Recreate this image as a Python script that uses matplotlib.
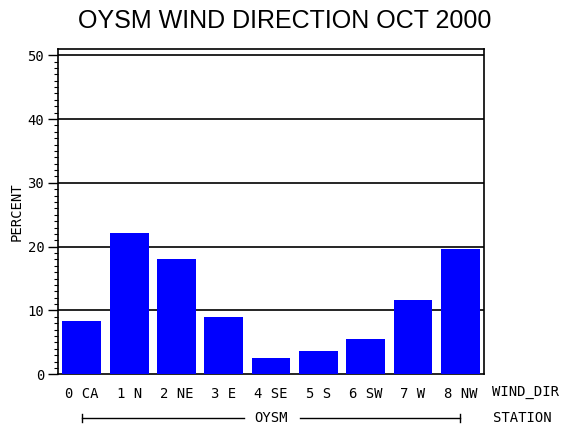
import matplotlib
matplotlib.use("Agg")
import matplotlib.pyplot as plt
import numpy as np

directions = ["0 CA", "1 N", "2 NE", "3 E", "4 SE", "5 S", "6 SW", "7 W", "8 NW"]
percent = [8.35, 22.15, 18.07, 8.98, 2.55, 3.65, 5.53, 11.65, 19.64]
station = "OYSM"
title = "OYSM WIND DIRECTION OCT 2000"

mono = "DejaVu Sans Mono"

fig = plt.figure(figsize=(5.7, 4.3), dpi=100)
ax = fig.add_axes([0.102, 0.1295, 0.747, 0.7555])

x = np.arange(len(directions))
ax.bar(x, percent, width=0.82, color="#0000ff", zorder=3)

ax.set_xlim(-0.5, len(directions) - 0.5)
ax.set_ylim(0, 50.9)
ax.set_yticks(np.arange(0, 51, 10))
ax.set_yticks(np.arange(0, 51, 1), minor=True)
for v in range(10, 51, 10):
    ax.axhline(v, color="black", lw=1.2, zorder=2)

ax.set_xticks(x)
ax.set_xticklabels(directions, family=mono, fontsize=10)
ax.tick_params(axis="x", length=0, pad=9)
ax.tick_params(axis="y", which="major", length=7, width=1, labelsize=10, pad=3)
ax.tick_params(axis="y", which="minor", length=3, width=0.8)
for lab in ax.get_yticklabels():
    lab.set_family(mono)
for s in ax.spines.values():
    s.set_linewidth(1.2)

ax.set_ylabel("PERCENT", family=mono, fontsize=10, labelpad=3)

fig.text(0.5, 0.95, title, ha="center", va="center", fontsize=18,
         family="Liberation Sans")

# group label row
fig.text(0.863, 0.088, "WIND_DIR", family=mono, fontsize=10, va="center")
fig.text(0.865, 0.028, "STATION", family=mono, fontsize=10, va="center")

trans = ax.get_xaxis_transform()
yl = -0.135
ax.plot([0, 3.43], [yl, yl], color="black", lw=1, transform=trans, clip_on=False)
ax.plot([4.61, 8], [yl, yl], color="black", lw=1, transform=trans, clip_on=False)
for xe in (0, 8):
    ax.plot([xe, xe], [yl - 0.012, yl + 0.012], color="black", lw=1,
            transform=trans, clip_on=False)
ax.text(4, yl, station, transform=trans, ha="center", va="center",
        family=mono, fontsize=10)

fig.savefig("out.png", dpi=100)
